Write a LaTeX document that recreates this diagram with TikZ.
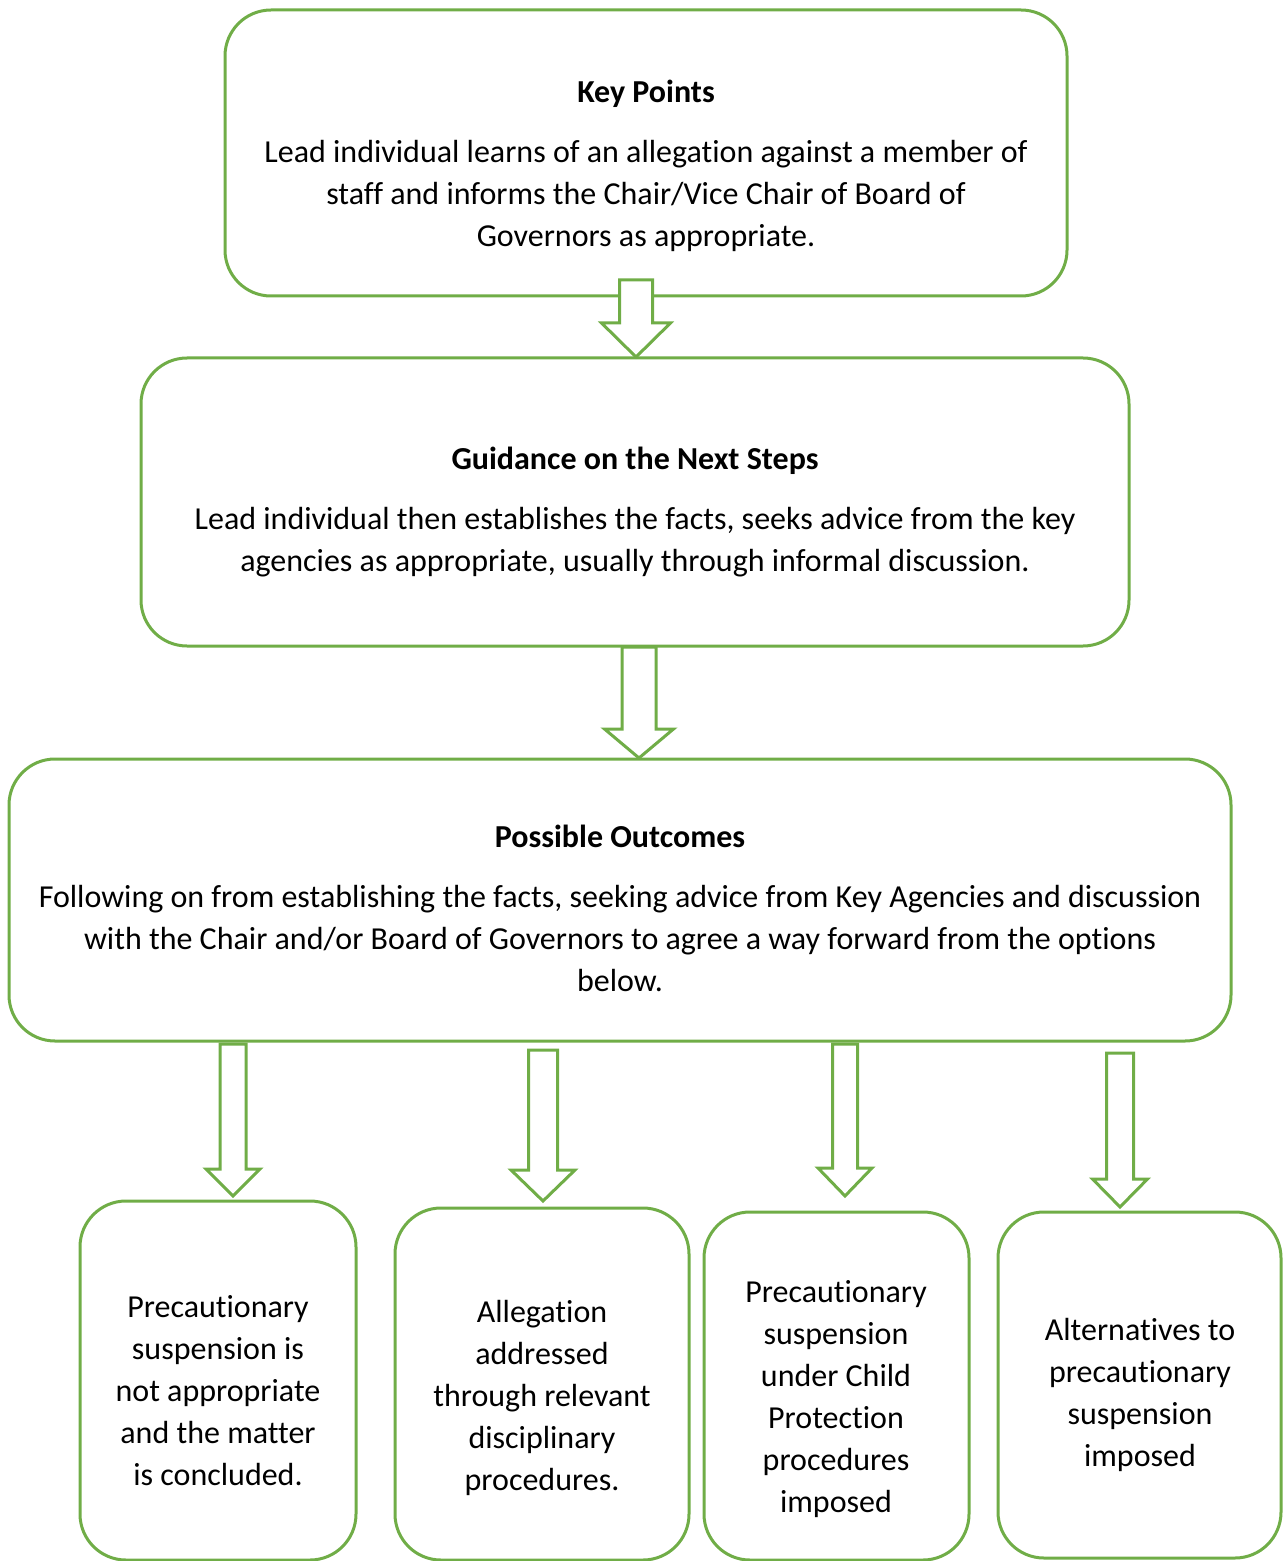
\documentclass[tikz,border=0pt]{standalone}
\usepackage{fontspec}
\setmainfont{Carlito}[Ligatures={NoCommon}]
\usetikzlibrary{calc}
\usetikzlibrary{positioning}
\definecolor{boxgreen}{HTML}{70AD47}
\tikzset{
    roundbox/.style={
        draw=boxgreen,      % green border
        line width=1.5pt,
        rounded corners=23pt,
        outer sep=0pt,
        inner sep=0pt
    },
    boxtext/.style={
        align=center,
        inner sep=0pt,
        font=\fontsize{16}{21}\selectfont
    },
    arrowline/.style={
        draw=boxgreen,
        line width=1.5pt,
        fill=white,
        line join=miter
    }
}
% block arrow: tail, tip, half shaft, half head, head length
\newcommand{\blockarrow}[5]{%
  \draw[arrowline] ($(#1)+(-#3,0)$) -- ($(#1)+(#3,0)$) -- ($(#2)+(#3,-#5)$)
    -- ($(#2)+(#4,-#5)$) -- (#2) -- ($(#2)+(-#4,-#5)$) -- ($(#2)+(-#3,-#5)$) -- cycle;}

\begin{document}
\begin{tikzpicture}[x=0.5pt, y=-0.5pt]
\useasboundingbox (0,0) rectangle (1282,1561);

% boxes
\node[roundbox, minimum width=421pt, minimum height=143pt] (kp) at (646,153) {};
\node[roundbox, minimum width=494pt, minimum height=144pt] (gd) at (635,502) {};
\node[roundbox, minimum width=611pt, minimum height=141pt] (po) at (620,900) {};

\node[roundbox, minimum width=138pt, minimum height=179.5pt] (o1) at (218,1380.5) {};
\node[roundbox, minimum width=147pt, minimum height=176pt] (o2) at (542,1384) {};
\node[roundbox, minimum width=132.5pt, minimum height=174pt] (o3) at (836.5,1386) {};
\node[roundbox, minimum width=141.5pt, minimum height=173pt] (o4) at (1139.5,1385) {};

% texts
\node[boxtext] (kptext) at (646,166) {\textbf{Key Points}\\[9pt]
  Lead individual learns of an allegation against a member of\\
  staff and informs the Chair/Vice Chair of Board of\\
  Governors as appropriate.};
\node[boxtext] (gdtext) at (635,512) {\textbf{Guidance on the Next Steps}\\[9pt]
  Lead individual then establishes the facts, seeks advice from the key\\
  agencies as appropriate, usually through informal discussion.};
\node[boxtext] (potext) at (620,908) {\textbf{Possible Outcomes}\\[9pt]
  Following on from establishing the facts, seeking advice from Key Agencies and discussion\\
  with the Chair and/or Board of Governors to agree a way forward from the options\\
  below.};

\node[boxtext] (o1text) at (218,1391) {Precautionary\\ suspension is\\ not appropriate\\ and the matter\\ is concluded.};
\node[boxtext] (o2text) at (542,1398) {Allegation\\ addressed\\ through relevant\\ disciplinary\\ procedures.};
\node[boxtext] (o3text) at (836,1399) {Precautionary\\ suspension\\ under Child\\ Protection\\ procedures\\ imposed};
\node[boxtext] (o4text) at (1140,1395) {Alternatives to\\ precautionary\\ suspension\\ imposed};

% arrow ends
\coordinate (a1s) at ($(kp.south)+(-10,-16)$);
\coordinate (a1t) at ($(gd.north)+(1,-1)$);
\coordinate (a2s) at ($(gd.south)+(4,1)$);
\coordinate (a2t) at ($(po.north)+(19,-1)$);
\coordinate (a3s) at ($(po.south)+(-387,3)$);
\coordinate (a3t) at ($(o1.north)+(15,-5)$);
\coordinate (a4s) at ($(po.south)+(-77,9)$);
\coordinate (a4t) at ($(o2.north)+(1,-7)$);
\coordinate (a5s) at ($(po.south)+(225,3)$);
\coordinate (a5t) at ($(o3.north)+(8.5,-16)$);
\coordinate (a6s) at ($(po.south)+(500,12)$);
\coordinate (a6t) at ($(o4.north)+(-19.5,-5)$);

\blockarrow{a1s}{a1t}{16.5}{34.5}{34}
\blockarrow{a2s}{a2t}{17}{34.5}{29}
\blockarrow{a3s}{a3t}{13}{27}{27}
\blockarrow{a4s}{a4t}{14.5}{32}{31}
\blockarrow{a5s}{a5t}{12.5}{27}{28}
\blockarrow{a6s}{a6t}{13.5}{27.5}{28}

\end{tikzpicture}
\end{document}
